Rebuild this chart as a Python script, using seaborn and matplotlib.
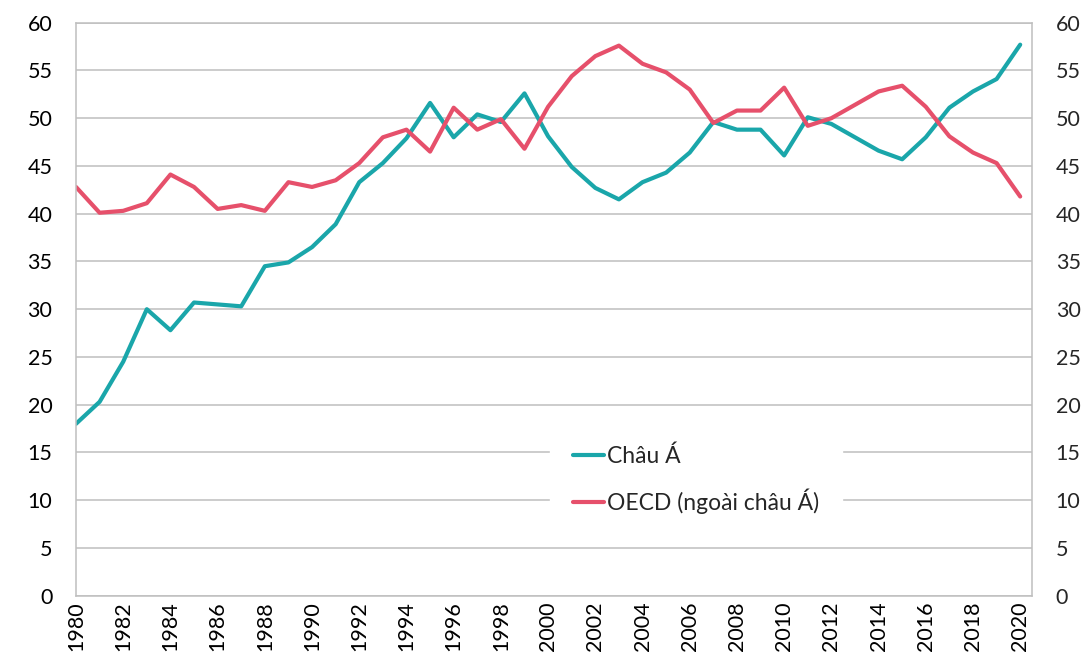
import matplotlib
matplotlib.use("Agg")
import matplotlib.pyplot as plt
import seaborn as sns
import pandas as pd
import numpy as np

years = list(range(1980, 2021))
chau_a = [18.0, 20.3, 24.5, 30.0, 27.8, 30.7, 30.5, 30.3, 34.5, 34.9,
          36.5, 38.9, 43.3, 45.3, 47.9, 51.6, 48.0, 50.4, 49.6, 52.6,
          48.1, 44.9, 42.7, 41.5, 43.3, 44.3, 46.4, 49.6, 48.8, 48.8,
          46.1, 50.1, 49.4, 48.0, 46.6, 45.7, 48.0, 51.1, 52.8, 54.1,
          57.7]
oecd = [42.8, 40.1, 40.3, 41.1, 44.1, 42.8, 40.5, 40.9, 40.3, 43.3,
        42.8, 43.5, 45.3, 48.0, 48.8, 46.5, 51.1, 48.8, 49.9, 46.8,
        51.2, 54.4, 56.5, 57.6, 55.7, 54.8, 53.0, 49.5, 50.8, 50.8,
        53.2, 49.2, 50.0, 51.4, 52.8, 53.4, 51.2, 48.1, 46.4, 45.3,
        41.8]
series_names = ["Châu Á", "OECD (ngoài châu Á)"]
colors = ["#1AA6AA", "#E6506B"]
yticks = list(range(0, 61, 5))
xticks = list(range(1980, 2021, 2))

df = pd.DataFrame({
    "year": years * 2,
    "value": chau_a + oecd,
    "series": [series_names[0]] * len(years) + [series_names[1]] * len(years),
})

sns.set_style("white")
plt.rcParams["font.family"] = ["Lato", "DejaVu Sans"]

fig = plt.figure(figsize=(10.87, 6.59), dpi=100)
ax = fig.add_axes([76 / 1087, 1 - 595.7 / 659, (1032 - 76) / 1087, (595.7 - 22.7) / 659])

sns.lineplot(data=df, x="year", y="value", hue="series", palette=colors,
             linewidth=3.0, ax=ax, legend=True)

ax.set_xlim(1980, 2020.5)
ax.set_ylim(0, 60)
ax.set_yticks(yticks)
ax.set_xticks(xticks)
ax.set_xticklabels([str(x) for x in xticks], rotation=90)
ax.set_xlabel("")
ax.set_ylabel("")
ax.grid(axis="y", color="#BFBFBF", linewidth=1.1)
ax.grid(axis="x", visible=False)
ax.set_axisbelow(True)
for s in ax.spines.values():
    s.set_color("#BFBFBF")
    s.set_linewidth(1.1)
ax.tick_params(axis="both", length=0, labelsize=15.5, colors="black")
ax.tick_params(axis="y", pad=17)
ax.tick_params(axis="x", pad=4)

ax2 = ax.twinx()
ax2.set_ylim(0, 60)
ax2.set_yticks(yticks)
ax2.tick_params(axis="y", length=0, labelsize=15.5, pad=17)
for s in ax2.spines.values():
    s.set_visible(False)
ax2.grid(False)

handles, labels = ax.get_legend_handles_labels()
leg = ax.legend(handles, labels, loc="center left",
                bbox_to_anchor=((550 - 76) / 956, (595.7 - 480) / 573),
                frameon=True, fontsize=16.5, handlelength=1.35, handletextpad=0.15,
                labelspacing=0.95, borderpad=1.0, borderaxespad=0)
leg.get_frame().set_facecolor("white")
leg.get_frame().set_edgecolor("white")
leg.get_frame().set_alpha(1)
leg.get_frame().set_boxstyle("square", pad=0)
leg.set_zorder(10)
for line in leg.get_lines():
    line.set_linewidth(3.0)

fig.savefig("out.png", dpi=100)
